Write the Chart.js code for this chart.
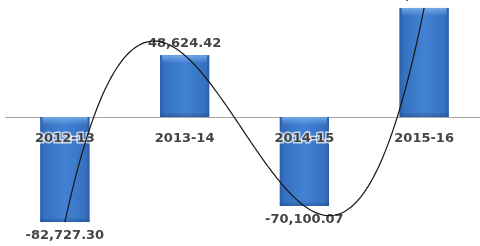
<!DOCTYPE html>
<html>
<head>
<meta charset="utf-8">
<script src="https://cdn.jsdelivr.net/npm/chart.js@4/dist/chart.umd.min.js"></script>
<style>
  html, body { margin: 0; padding: 0; background: #ffffff; overflow: hidden; }
  #wrap { width: 486px; height: 246px; }
</style>
</head>
<body>
<div id="wrap"><canvas id="c" width="486" height="246"></canvas></div>
<script>
// ---- data ----
const categories = ['2012-13', '2013-14', '2014-15', '2015-16'];
const values = [-82727.30, 48624.42, -70100.07, 85830.00];
const trendOrder = 3; // polynomial trendline (order 3) fitted to the series
const yMin = -101600;
const yMax = 92100;

const fmt = v => v.toLocaleString('en-US', { minimumFractionDigits: 2, maximumFractionDigits: 2 });

// least squares polynomial fit, x = 1..n
function polyFit(ys, order) {
  const n = order + 1;
  const A = [], b = [];
  for (let i = 0; i < n; i++) {
    A.push(new Array(n).fill(0));
    b.push(0);
  }
  ys.forEach((y, k) => {
    const x = k + 1;
    for (let i = 0; i < n; i++) {
      b[i] += y * Math.pow(x, i);
      for (let j = 0; j < n; j++) A[i][j] += Math.pow(x, i + j);
    }
  });
  for (let c = 0; c < n; c++) {
    let p = c;
    for (let r = c + 1; r < n; r++) if (Math.abs(A[r][c]) > Math.abs(A[p][c])) p = r;
    [A[c], A[p]] = [A[p], A[c]];
    [b[c], b[p]] = [b[p], b[c]];
    for (let r = 0; r < n; r++) {
      if (r === c) continue;
      const f = A[r][c] / A[c][c];
      for (let j = c; j < n; j++) A[r][j] -= f * A[c][j];
      b[r] -= f * b[c];
    }
  }
  return b.map((v, i) => v / A[i][i]);
}
const coeffs = polyFit(values, trendOrder);
const poly = x => coeffs.reduce((s, c, i) => s + c * Math.pow(x, i), 0);

const zeroLine = {
  id: 'zeroLine',
  beforeDatasetsDraw(chart) {
    const { ctx, chartArea, scales } = chart;
    const y = Math.round(scales.y.getPixelForValue(0)) + 0.5;
    ctx.save();
    ctx.strokeStyle = '#a6a6a6';
    ctx.lineWidth = 1;
    ctx.beginPath();
    ctx.moveTo(chartArea.left, y);
    ctx.lineTo(chartArea.right, y);
    ctx.stroke();
    ctx.restore();
  }
};

const barShade = {
  id: 'barShade',
  afterDatasetDraw(chart, args) {
    if (args.index !== 0) return;
    const { ctx } = chart;
    const meta = chart.getDatasetMeta(0);
    ctx.save();
    meta.data.forEach(el => {
      const p = el.getProps(['x', 'y', 'base', 'width'], true);
      const l = p.x - p.width / 2, r = p.x + p.width / 2;
      const t = Math.min(p.y, p.base), btm = Math.max(p.y, p.base);
      const h = btm - t;
      const g = ctx.createLinearGradient(l, 0, r, 0);
      g.addColorStop(0, '#2b5da6');
      g.addColorStop(0.08, '#3671c0');
      g.addColorStop(0.5, '#4282d3');
      g.addColorStop(0.92, '#3671c0');
      g.addColorStop(1, '#2b5da6');
      ctx.fillStyle = g;
      ctx.fillRect(l, t, p.width, h);
      const gt = ctx.createLinearGradient(0, t, 0, t + 8);
      gt.addColorStop(0, 'rgba(130,180,240,0.8)');
      gt.addColorStop(1, 'rgba(130,180,240,0)');
      ctx.fillStyle = gt;
      ctx.fillRect(l + 2, t, p.width - 4, Math.min(8, h));
      const gb = ctx.createLinearGradient(0, btm - 5, 0, btm);
      gb.addColorStop(0, 'rgba(20,50,110,0)');
      gb.addColorStop(1, 'rgba(20,50,110,0.35)');
      ctx.fillStyle = gb;
      ctx.fillRect(l, btm - 5, p.width, 5);
    });
    ctx.restore();
  }
};

const labelsPlugin = {
  id: 'labelsPlugin',
  afterDatasetsDraw(chart) {
    const { ctx, scales } = chart;
    const meta = chart.getDatasetMeta(0);
    const y0 = scales.y.getPixelForValue(0);
    ctx.save();
    ctx.textAlign = 'center';
    ctx.textBaseline = 'middle';
    ctx.font = 'bold 13px "DejaVu Sans"';
    // category labels
    categories.forEach((c, i) => {
      const x = scales.x.getPixelForValue(i);
      ctx.lineWidth = 3;
      ctx.strokeStyle = 'rgba(255,255,255,0.7)';
      ctx.strokeText(c, x, y0 + 22);
      ctx.fillStyle = '#444444';
      ctx.fillText(c, x, y0 + 22);
    });
    // value labels
    meta.data.forEach((el, i) => {
      const p = el.getProps(['x', 'y'], true);
      const v = values[i];
      const y = v >= 0 ? p.y - 12 : p.y + 14;
      ctx.fillStyle = '#444444';
      ctx.fillText(fmt(v), p.x, y);
    });
    // trendline
    ctx.strokeStyle = '#151515';
    ctx.lineWidth = 1.2;
    ctx.beginPath();
    const steps = 200;
    for (let s = 0; s <= steps; s++) {
      const xv = 1 + (values.length - 1) * s / steps;
      const px = scales.x.getPixelForValue(xv - 1);
      const py = scales.y.getPixelForValue(poly(xv));
      if (s === 0) ctx.moveTo(px, py); else ctx.lineTo(px, py);
    }
    ctx.stroke();
    ctx.restore();
  }
};

new Chart(document.getElementById('c'), {
  type: 'bar',
  data: {
    labels: categories,
    datasets: [{
      data: values,
      backgroundColor: '#3b7acb',
      borderWidth: 0,
      barPercentage: 0.41,
      categoryPercentage: 1
    }]
  },
  options: {
    responsive: false,
    devicePixelRatio: 1,
    animation: false,
    layout: { padding: { left: 5, right: 2, top: 0, bottom: 0 } },
    plugins: { legend: { display: false }, tooltip: { enabled: false } },
    scales: {
      x: { display: false },
      y: { display: false, min: yMin, max: yMax }
    }
  },
  plugins: [zeroLine, barShade, labelsPlugin]
});
</script>
</body>
</html>
